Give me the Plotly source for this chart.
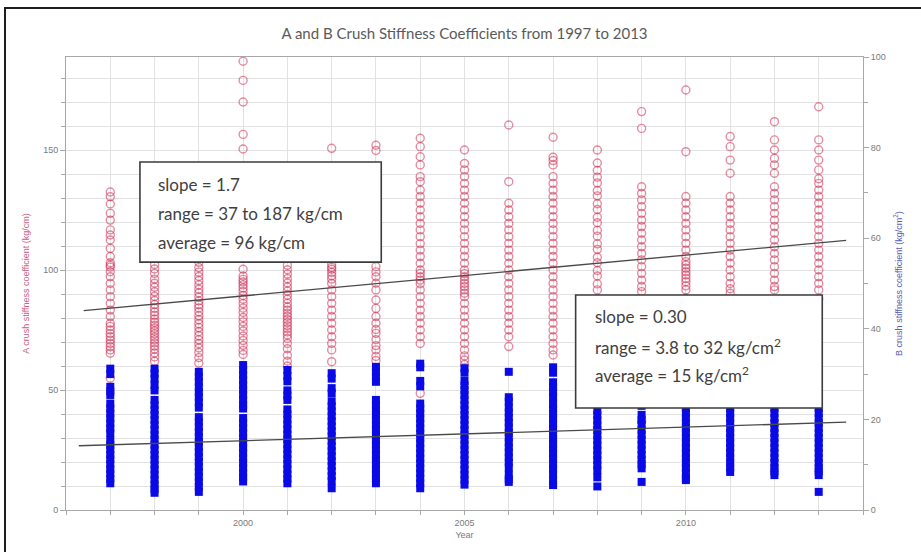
import plotly.graph_objects as go

# ---- data -------------------------------------------------------------
YEARS = list(range(1997, 2014))

# A crush stiffness coefficient (kg/cm), one list per model year
A_1997 = [132.5, 130.5, 127.5, 123.6, 120.8, 116.7, 114.6, 112.5, 109.0, 105.6, 103.0, 102.0, 101.2,
          99.3, 97.2, 94.4, 91.7, 88.9, 86.1, 83.3, 80.6, 77.8, 76.5, 75.0, 73.5, 72.2, 70.8, 69.4,
          68.0, 66.7, 65.3, 54.9]
A_1998 = [121.0, 112.4, 106.8, 102.3, 100.4, 98.6, 96.2, 94.5, 92.8, 90.9, 89.0, 87.3, 85.6, 84.0,
          82.5, 81.1, 79.6, 78.2, 77.0, 75.8, 74.6, 73.4, 72.1, 70.9, 69.6, 68.3, 67.0, 65.4, 63.8, 62.0]
A_1999 = [117.5, 108.9, 103.2, 101.0, 99.1, 97.3, 95.6, 93.8, 92.0, 90.4, 88.7, 87.1, 85.5, 84.2,
          82.6, 80.9, 79.3, 77.6, 76.0, 74.3, 72.6, 70.9, 69.3, 67.5, 65.6, 63.5, 61.2]
A_2000 = [187.0, 179.0, 170.0, 156.5, 150.4, 130.2, 118.0, 100.3, 97.5, 96.1, 95.0, 93.8, 92.5,
          91.1, 89.4, 87.8, 86.0, 84.1, 82.3, 80.2, 78.4, 76.5, 74.6, 72.5, 70.6, 68.6, 66.5, 64.8]
A_2001 = [124.6, 113.0, 106.2, 102.0, 100.1, 98.3, 96.4, 94.6, 92.9, 91.2, 89.5, 87.8, 86.1, 84.6,
          83.3, 82.0, 80.7, 79.4, 78.1, 76.8, 75.5, 74.2, 72.9, 71.5, 69.4, 67.2, 64.5, 62.0, 60.0]
A_2002 = [150.7, 115.2, 107.9, 102.4, 101.1, 100.3, 99.0, 97.6, 96.2, 94.4, 91.7, 88.9, 86.1, 83.3,
          80.6, 77.8, 75.0, 72.2, 69.4, 66.7, 61.8]
A_2003 = [152.0, 149.8, 120.3, 110.5, 101.4, 99.2, 97.2, 94.5, 91.7, 87.5, 84.0, 80.6, 77.8, 75.2,
          73.6, 71.0, 68.5, 66.7, 64.0, 62.3]
A_2004 = [154.9, 151.4, 147.2, 143.8, 138.9, 136.8, 133.3, 130.6, 127.8, 125.0, 122.2, 119.4, 116.7,
          113.9, 111.0, 108.3, 105.6, 102.8, 100.0, 98.6, 97.2, 95.8, 94.3, 91.7, 88.9, 86.1, 83.3,
          80.6, 77.8, 75.0, 72.2, 69.4, 48.6]
A_2005 = [150.0, 144.4, 141.7, 138.9, 136.1, 133.3, 130.6, 127.8, 125.0, 122.2, 119.4, 116.7, 113.9,
          111.1, 108.3, 105.6, 102.8, 100.0, 98.5, 97.2, 95.8, 94.4, 93.1, 91.7, 90.3, 88.9, 86.1,
          83.3, 80.6, 77.8, 75.0, 72.2, 69.4, 66.7, 64.2, 62.5, 60.6]
A_2006 = [160.4, 136.8, 127.8, 125.0, 122.2, 119.4, 116.7, 113.9, 111.1, 108.3, 105.6, 102.8, 100.0,
          97.2, 94.4, 91.7, 88.9, 86.1, 83.3, 80.6, 77.8, 75.0, 72.2, 68.1]
A_2007 = [155.3, 147.0, 145.6, 143.8, 138.9, 136.1, 133.3, 130.6, 127.8, 125.0, 122.2, 119.4, 116.7,
          113.9, 111.1, 108.3, 105.6, 102.8, 100.0, 97.2, 94.4, 91.7, 88.9, 86.1, 83.3, 80.6, 77.8,
          75.0, 72.2, 69.4, 66.7, 64.6]
A_2008 = [150.0, 144.6, 141.5, 138.7, 136.3, 133.1, 130.9, 127.6, 125.2, 122.0, 119.7, 116.5, 114.1,
          110.9, 108.6, 105.3, 103.0, 99.8, 97.5, 94.2, 91.7, 88.0, 84.5, 80.2, 76.1, 71.8, 67.5]
A_2009 = [166.0, 159.0, 134.7, 131.9, 129.2, 126.4, 123.6, 120.8, 118.1, 115.3, 112.5, 109.7, 106.9,
          104.2, 101.4, 98.6, 95.8, 93.1, 91.0, 86.3, 81.7, 77.4, 73.0, 37.0]
A_2010 = [175.0, 149.3, 130.6, 127.8, 125.0, 122.2, 119.4, 116.7, 113.9, 111.1, 108.3, 105.6, 103.5,
          102.1, 100.7, 99.3, 97.9, 96.5, 95.1, 93.4, 91.7, 88.2, 84.0, 79.5]
A_2011 = [155.6, 151.4, 145.8, 140.3, 130.6, 127.8, 125.0, 122.2, 119.4, 116.7, 113.9, 111.1, 108.3,
          105.6, 102.8, 100.0, 97.2, 94.4, 92.2, 90.3, 86.0, 82.1]
A_2012 = [161.8, 154.2, 150.0, 146.5, 143.8, 140.3, 134.7, 131.9, 129.2, 126.4, 123.6, 120.8, 118.1,
          115.3, 112.5, 109.7, 106.9, 104.2, 101.4, 98.6, 95.8, 93.1, 91.7, 87.0, 83.0]
A_2013 = [168.0, 154.2, 150.0, 145.8, 141.7, 138.0, 136.1, 133.3, 130.6, 127.8, 125.0, 122.2, 119.4,
          116.7, 113.9, 111.1, 108.3, 105.6, 102.8, 100.0, 97.2, 94.4, 91.7, 88.0]

# B crush stiffness coefficient (kg/cm^2), one list per model year
B_1997 = [31.2, 30.0, 27.2, 26.2, 25.4, 23.5, 22.4, 21.3, 20.2, 19.1, 18.0, 17.0, 15.4, 14.4, 13.3,
          12.2, 11.2, 10.1, 9.0, 8.0, 6.9, 5.9]
B_1998 = [31.2, 30.1, 29.0, 27.6, 26.4, 24.3, 23.2, 22.1, 21.0, 19.9, 18.8, 17.7, 16.6, 15.5, 14.4,
          13.3, 12.2, 11.1, 10.0, 8.9, 7.8, 6.7, 5.6, 4.6, 3.8]
B_1999 = [30.5, 29.4, 28.3, 27.1, 26.0, 24.9, 23.8, 22.6, 20.5, 19.4, 18.3, 17.2, 16.1, 15.0, 13.9,
          12.8, 11.7, 10.6, 9.5, 8.4, 7.3, 6.2, 5.1, 4.0]
B_2000 = [32.0, 30.9, 29.8, 28.7, 27.6, 26.5, 25.4, 24.3, 23.2, 22.4, 20.3, 19.2, 18.1, 17.0, 15.9,
          14.8, 13.7, 12.6, 11.5, 10.4, 9.3, 8.2, 7.2, 6.3]
B_2001 = [30.9, 29.6, 28.4, 26.4, 25.3, 24.3, 22.2, 21.1, 20.0, 18.9, 17.8, 16.7, 15.6, 14.5, 13.4,
          12.3, 11.2, 10.1, 9.0, 7.9, 6.9, 5.9]
B_2002 = [30.2, 29.0, 26.9, 25.8, 24.0, 22.9, 21.8, 20.7, 19.6, 18.5, 17.4, 16.3, 15.2, 14.1, 13.0,
          11.9, 10.8, 9.7, 8.6, 7.5, 6.4, 4.8]
B_2003 = [31.6, 30.5, 29.4, 28.3, 24.3, 23.2, 22.1, 21.0, 19.9, 18.8, 17.7, 16.6, 15.5, 14.4, 13.3,
          12.2, 11.1, 10.0, 8.9, 7.9, 6.9, 5.9]
B_2004 = [32.3, 31.5, 28.5, 27.3, 23.5, 22.4, 21.3, 20.2, 19.1, 18.0, 16.9, 15.8, 14.7, 13.6, 12.5,
          11.4, 10.3, 9.2, 8.1, 7.0, 5.9, 4.8]
B_2005 = [31.3, 30.3, 28.5, 27.5, 26.5, 25.4, 24.3, 23.2, 22.1, 21.0, 19.9, 18.8, 17.7, 16.6, 15.5,
          14.4, 13.3, 12.2, 11.1, 10.0, 8.9, 7.8, 6.7, 5.6]
B_2006 = [30.5, 24.9, 23.9, 22.6, 21.5, 20.4, 19.3, 18.2, 17.1, 16.0, 14.9, 13.8, 12.7, 11.6, 10.5,
          9.4, 7.8, 6.8, 6.2]
B_2007 = [31.5, 30.3, 28.2, 27.1, 26.0, 24.9, 23.4, 22.3, 21.2, 20.1, 19.0, 17.9, 16.8, 15.7, 14.6,
          13.5, 12.4, 11.3, 10.2, 9.1, 7.9, 6.4, 5.5]
B_2008 = [30.8, 29.5, 27.4, 25.0, 23.9, 22.0, 20.9, 19.8, 18.7, 17.6, 16.5, 15.4, 14.3, 13.2, 12.1,
          11.0, 9.9, 8.8, 7.2, 5.2]
B_2009 = [28.6, 25.6, 23.0, 21.0, 19.9, 18.8, 17.7, 16.6, 15.5, 14.4, 13.3, 12.2, 11.1, 10.1, 9.2,
          6.2]
B_2010 = [30.2, 27.0, 25.2, 23.6, 22.5, 21.4, 20.3, 19.2, 18.1, 17.0, 15.9, 14.8, 13.7, 12.6, 11.5,
          10.4, 9.3, 8.2, 7.1, 6.6]
B_2011 = [29.4, 26.8, 24.1, 22.5, 21.4, 20.3, 19.2, 18.1, 17.0, 15.9, 14.8, 13.7, 12.6, 11.5, 10.4,
          9.4, 8.4]
B_2012 = [31.0, 27.9, 25.3, 22.5, 21.4, 20.3, 19.2, 18.1, 17.0, 15.9, 14.8, 13.7, 12.6, 11.5, 10.4,
          9.3, 8.5, 7.7]
B_2013 = [30.0, 26.5, 24.0, 22.5, 21.4, 20.3, 19.2, 18.1, 17.0, 15.9, 14.8, 13.7, 12.6, 11.5, 10.4,
          9.3, 8.5, 7.7, 4.0]

A_BY_YEAR = [A_1997, A_1998, A_1999, A_2000, A_2001, A_2002, A_2003, A_2004, A_2005,
             A_2006, A_2007, A_2008, A_2009, A_2010, A_2011, A_2012, A_2013]
B_BY_YEAR = [B_1997, B_1998, B_1999, B_2000, B_2001, B_2002, B_2003, B_2004, B_2005,
             B_2006, B_2007, B_2008, B_2009, B_2010, B_2011, B_2012, B_2013]

# linear trends: slope per year, level at 2005, and the span of the fitted line
A_SLOPE, A_AT_2005 = 1.7, 97.7
B_SLOPE, B_AT_2005 = 0.30, 16.8
A_TREND_SPAN = [1996.4, 2013.62]
B_TREND_SPAN = [1996.29, 2013.62]

A_STATS = ["slope = 1.7", "range = 37 to 187 kg/cm", "average = 96 kg/cm"]
B_STATS = ["slope = 0.30", "range = 3.8 to 32 kg/cm<sup>2</sup>", "average = 15 kg/cm<sup>2</sup>"]

# ---- figure -----------------------------------------------------------
ax, ay, bx, by = [], [], [], []
for yr, a_vals, b_vals in zip(YEARS, A_BY_YEAR, B_BY_YEAR):
    ax += [yr] * len(a_vals)
    ay += a_vals
    bx += [yr] * len(b_vals)
    by += b_vals

fig = go.Figure()
fig.add_trace(go.Scatter(
    x=ax, y=ay, mode="markers", yaxis="y",
    marker=dict(symbol="circle-open", size=8, color="rgba(205,25,70,0.5)",
                line=dict(width=1.4, color="rgba(205,25,70,0.5)")),
    showlegend=False, hoverinfo="x+y"))
fig.add_trace(go.Scatter(
    x=A_TREND_SPAN, y=[A_AT_2005 + A_SLOPE * (t - 2005) for t in A_TREND_SPAN],
    mode="lines", yaxis="y", line=dict(color="#4a4a4a", width=1.3),
    showlegend=False, hoverinfo="skip"))
fig.add_trace(go.Scatter(
    x=bx, y=by, mode="markers", yaxis="y2",
    marker=dict(symbol="square", size=8, color="#0a0ae6", line=dict(width=0)),
    showlegend=False, hoverinfo="x+y"))
fig.add_trace(go.Scatter(
    x=B_TREND_SPAN, y=[B_AT_2005 + B_SLOPE * (t - 2005) for t in B_TREND_SPAN],
    mode="lines", yaxis="y2", line=dict(color="#4a4a4a", width=1.3),
    showlegend=False, hoverinfo="skip"))

L, R, T, B = 66, 58, 57, 42
W, H = 921, 552
PW, PH = W - L - R, H - T - B


def px(x):
    return (x - L) / PW


def py(y):
    return (H - B - y) / PH


tick_font = dict(family="Liberation Sans, Arial", size=9, color="#7a7a7a")
grid = "#e2e2e2"
axis_line = "#a8a8a8"

fig.update_layout(
    width=W, height=H,
    margin=dict(l=L, r=R, t=T, b=B),
    paper_bgcolor="white", plot_bgcolor="white",
    title=dict(text="A and B Crush Stiffness Coefficients from 1997 to 2013",
               x=0.5, xref="paper", y=1 - 34 / H, yref="container", yanchor="middle",
               font=dict(family="Lato, Open Sans", size=15, color="#5a5a5a")),
    xaxis=dict(range=[1996, 2014], tickmode="array", tickvals=[2000, 2005, 2010],
               ticks="outside", ticklen=4, tickcolor=axis_line, tickfont=tick_font,
               showline=True, linecolor=axis_line, mirror=True,
               showgrid=True, gridcolor=grid, zeroline=False,
               minor=dict(tickmode="linear", tick0=1996, dtick=1, showgrid=True,
                          gridcolor=grid, ticks="outside", ticklen=4, tickcolor=axis_line),
               title=dict(text="Year", standoff=4,
                          font=dict(family="Liberation Sans, Arial", size=9, color="#7a7a7a"))),
    yaxis=dict(range=[0, 188.75], tickmode="array", tickvals=[0, 50, 100, 150],
               ticks="outside", ticklen=5, tickcolor=axis_line, tickfont=tick_font,
               showline=True, linecolor=axis_line, showgrid=True, gridcolor=grid,
               zeroline=False,
               minor=dict(tickmode="linear", tick0=0, dtick=10, showgrid=True,
                          gridcolor=grid, ticks="outside", ticklen=4, tickcolor=axis_line),
               title=dict(text="A crush stiffness coefficient (kg/cm)", standoff=12,
                          font=dict(family="Liberation Sans, Arial", size=9, color="#c8607e"))),
    yaxis2=dict(range=[0, 100], overlaying="y", side="right", anchor="x",
                tickmode="array", tickvals=[0, 20, 40, 60, 80, 100],
                ticks="outside", ticklen=5, tickcolor=axis_line, tickfont=tick_font,
                showline=True, linecolor=axis_line, showgrid=False, zeroline=False,
                minor=dict(tickmode="linear", tick0=0, dtick=10, ticks="outside",
                           ticklen=4, tickcolor=axis_line, showgrid=False),
                title=dict(text="B crush stiffness coefficient (kg/cm<sup>2</sup>)", standoff=10,
                           font=dict(family="Liberation Sans, Arial", size=9, color="#5a5ab4"))),
)

# statistics boxes (white, drawn over the markers)
box_line = dict(color="#3c3c3c", width=1.6)
fig.add_shape(type="rect", xref="x", yref="y", x0=1997.67, x1=2003.12, y0=103.3, y1=145.0,
              fillcolor="white", line=box_line, layer="above")
fig.add_shape(type="rect", xref="x", yref="y", x0=2007.51, x1=2013.08, y0=42.5, y1=89.6,
              fillcolor="white", line=box_line, layer="above")

stat_font = dict(family="Lato, Open Sans", size=17, color="#404040")
for text, yv in zip(A_STATS, [135.8, 123.6, 111.3]):
    fig.add_annotation(x=1998.04, y=yv, xref="x", yref="y", text=text, showarrow=False,
                       xanchor="left", yanchor="middle", font=stat_font)
for text, yv in zip(B_STATS, [80.8, 68.2, 56.6]):
    fig.add_annotation(x=2007.9, y=yv, xref="x", yref="y", text=text, showarrow=False,
                       xanchor="left", yanchor="middle", font=stat_font)

# outer frame along the top and left edges
frame = dict(color="#1e1e1e", width=2)
fig.add_shape(type="line", xref="paper", yref="paper", x0=px(5), x1=px(5), y0=py(8), y1=py(570),
              line=frame, layer="above")
fig.add_shape(type="line", xref="paper", yref="paper", x0=px(4), x1=px(940), y0=py(8), y1=py(8),
              line=frame, layer="above")

fig.write_html("out.html")
